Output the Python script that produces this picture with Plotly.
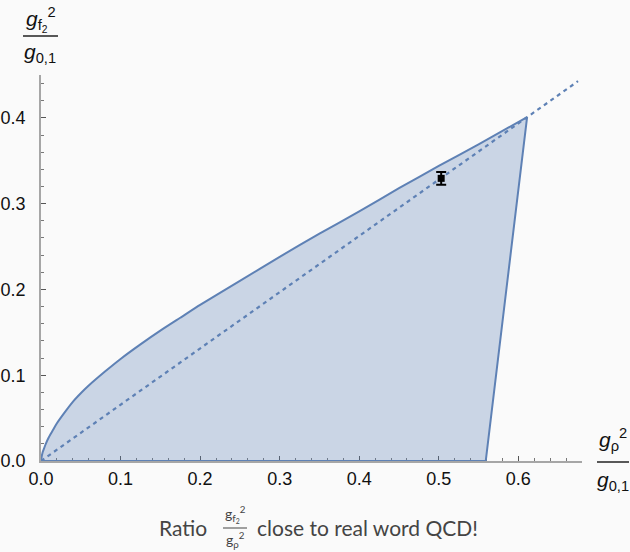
import plotly.graph_objects as go

# ---- data ----
upper_x = [0.0, 0.001, 0.002, 0.004, 0.006, 0.01, 0.015, 0.02, 0.03, 0.04, 0.05, 0.06,
           0.08, 0.10, 0.125, 0.15, 0.175, 0.20, 0.25, 0.30, 0.35, 0.40, 0.45, 0.50,
           0.55, 0.611]
upper_y = [0.0, 0.006, 0.010, 0.015, 0.020, 0.028, 0.036, 0.044, 0.057, 0.069, 0.079,
           0.088, 0.104, 0.119, 0.136, 0.152, 0.167, 0.182, 0.210, 0.238, 0.265,
           0.291, 0.318, 0.344, 0.369, 0.401]
corner_bottom_x = 0.559
dashed_x = [0.0, 0.675]
dashed_slope = 0.656
point_x = [0.503]
point_y = [0.3295]
point_err = [0.0075]

x_ticks = [0.0, 0.1, 0.2, 0.3, 0.4, 0.5, 0.6]
y_ticks = [0.0, 0.1, 0.2, 0.3, 0.4]
x_range = [0, 0.68]
y_range = [0, 0.45]

LINE = "#5E81B5"
FILL = "rgba(94,129,181,0.30)"
BG = "#fafafa"

poly_x = upper_x + [corner_bottom_x, 0.0]
poly_y = upper_y + [0.0, 0.0]

fig = go.Figure()
fig.add_trace(go.Scatter(x=poly_x, y=poly_y, mode="lines", fill="toself",
                         fillcolor=FILL, line=dict(width=0),
                         hoverinfo="skip", showlegend=False))
fig.add_trace(go.Scatter(x=upper_x, y=upper_y, mode="lines",
                         line=dict(color=LINE, width=2, shape="spline", smoothing=0.6),
                         hoverinfo="skip", showlegend=False))
fig.add_trace(go.Scatter(x=[upper_x[-1], corner_bottom_x, 0.0],
                         y=[upper_y[-1], 0.0, 0.0], mode="lines",
                         line=dict(color=LINE, width=2),
                         hoverinfo="skip", showlegend=False))
fig.add_trace(go.Scatter(x=dashed_x, y=[v * dashed_slope for v in dashed_x], mode="lines",
                         line=dict(color=LINE, width=2.2, dash="4px,4px"),
                         showlegend=False))
fig.add_trace(go.Scatter(x=point_x, y=point_y, mode="markers",
                         marker=dict(color="black", size=7, symbol="square"),
                         error_y=dict(type="data", array=point_err, color="black",
                                      thickness=2, width=5),
                         showlegend=False))

L, R, T, B = 41, 48, 75, 91
W, H = 630, 552
pw, ph = W - L - R, H - T - B


def px(x):
    return (x - L) / pw


def py(y):
    return (H - B - y) / ph


SANS = "Liberation Sans, Arial, sans-serif"
axis_common = dict(showline=True, linecolor="#a6a6a6", linewidth=1.5,
                   ticks="inside", ticklen=5, tickwidth=1, tickcolor="#555",
                   showgrid=False, zeroline=False, layer="below traces",
                   automargin=False,
                   tickfont=dict(family=SANS, size=18, color="#111"),
                   minor=dict(ticks="inside", ticklen=3, tickwidth=1,
                              tickcolor="#777", dtick=0.02, showgrid=False))

fig.update_xaxes(range=x_range, tickvals=x_ticks,
                 ticktext=[f"{v:.1f}" for v in x_ticks], ticklabelstandoff=1,
                 **axis_common)
fig.update_yaxes(range=y_range, tickvals=y_ticks,
                 ticktext=[f"{v:.1f}" for v in y_ticks], ticklabelstandoff=10,
                 **axis_common)

lab_font = dict(family=SANS, size=21, color="#111")
cap_font = dict(family="Lato", size=21, color="#444")
frac_font = dict(family="Lato", size=14, color="#444")

ann = []
shapes = []
ann.append(dict(text="<i>g</i><sub>f<sub>2</sub></sub><sup>2</sup>", x=px(41), y=py(20),
                font=lab_font))
ann.append(dict(text="<i>g</i><sub>0,1</sub>", x=px(40), y=py(53), font=lab_font))
shapes.append(dict(type="line", x0=px(23), x1=px(58), y0=py(36), y1=py(36),
                   line=dict(color="#222", width=1.5)))
ann.append(dict(text="<i>g</i><sub>ρ</sub><sup>2</sup>", x=px(613), y=py(439),
                font=lab_font))
ann.append(dict(text="<i>g</i><sub>0,1</sub>", x=px(613), y=py(481), font=lab_font))
shapes.append(dict(type="line", x0=px(597), x1=px(629), y0=py(462), y1=py(462),
                   line=dict(color="#222", width=1.5)))
ann.append(dict(text="Ratio", x=px(209), y=py(527), xanchor="right", font=cap_font))
ann.append(dict(text="g<sub>f<sub>2</sub></sub><sup>2</sup>", x=px(235), y=py(514),
                font=frac_font))
ann.append(dict(text="g<sub>ρ</sub><sup>2</sup>", x=px(235), y=py(539), font=frac_font))
shapes.append(dict(type="line", x0=px(223), x1=px(247), y0=py(528), y1=py(528),
                   line=dict(color="#444", width=1)))
ann.append(dict(text="close to real word QCD!", x=px(255), y=py(527), xanchor="left",
                font=cap_font))

for a in ann:
    a.update(xref="paper", yref="paper", showarrow=False)
    a.setdefault("xanchor", "center")
    a.setdefault("yanchor", "middle")
for s in shapes:
    s.update(xref="paper", yref="paper")

fig.update_layout(width=W, height=H, margin=dict(l=L, r=R, t=T, b=B),
                  paper_bgcolor=BG, plot_bgcolor=BG, annotations=ann, shapes=shapes,
                  showlegend=False)

fig.write_html("out.html")
